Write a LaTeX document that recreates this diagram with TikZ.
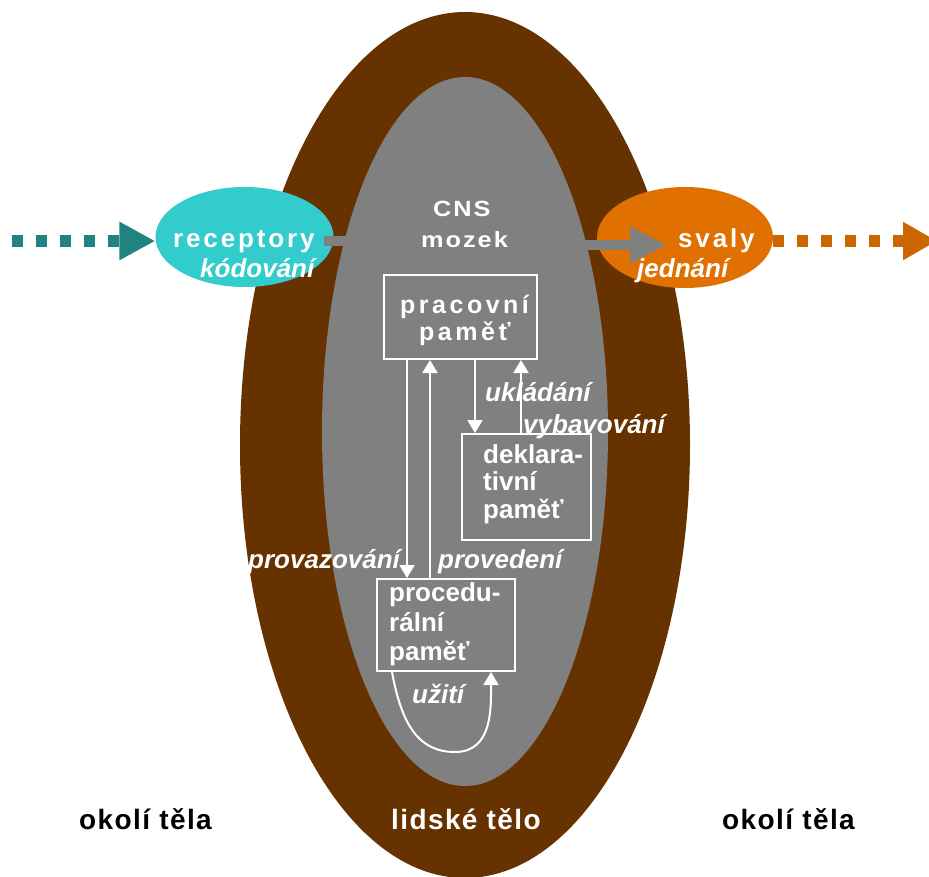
\documentclass[tikz,border=0pt]{standalone}
\usepackage{fontspec}
\setmainfont{Liberation Sans}
\newfontfamily\organfont[LetterSpace=11]{Liberation Sans}
\newfontfamily\spreadfont[LetterSpace=14]{Liberation Sans}
\newfontfamily\widefont[LetterSpace=9,FakeStretch=1.15]{Liberation Sans}
\newfontfamily\lightspread[LetterSpace=5]{Liberation Sans}
\usetikzlibrary{shapes.geometric,arrows.meta}
\definecolor{bodybrown}{HTML}{663300}
\definecolor{cnsgray}{HTML}{808080}
\definecolor{recepcyan}{HTML}{33CCCC}
\definecolor{muscleorange}{HTML}{E07000}
\definecolor{inteal}{HTML}{21837F}
\definecolor{outorange}{HTML}{CC6600}

\begin{document}
\begin{tikzpicture}[x=1pt,y=-1pt,
  blob/.style={ellipse, inner sep=0pt, draw=none},
  membox/.style={draw=white, line width=2pt, inner sep=0pt},
  flow/.style={draw=white, line width=2pt, -{Triangle[width=15pt,length=13pt]}},
  txt/.style={inner sep=0pt, anchor=base west, text=white},
  organ/.style={txt, font=\organfont\bfseries\fontsize{26}{30}\selectfont},
  working/.style={txt, font=\spreadfont\bfseries\fontsize{25}{30}\selectfont},
  brain/.style={txt, font=\widefont\bfseries\fontsize{22}{26}\selectfont},
  memtxt/.style={txt, font=\bfseries\fontsize{26}{30}\selectfont},
  act/.style={txt, font=\bfseries\itshape\fontsize{26}{30}\selectfont},
  place/.style={inner sep=0pt, anchor=base west, font=\lightspread\bfseries\fontsize{28}{30}\selectfont},
  signal/.style={line width=12pt, dash pattern=on 11pt off 13pt},
  nerve/.style={draw=cnsgray, line width=10pt}
]
\clip (0,0) rectangle (929,877);

% body and central nervous system
\node[blob, fill=bodybrown, minimum width=450pt, minimum height=866pt] (body) at (465,445) {};
\node[blob, fill=cnsgray, minimum width=286pt, minimum height=709pt] (cns) at (465,431.5) {};

% receptors and muscles
\node[blob, fill=recepcyan, minimum width=178pt, minimum height=100pt] (recep) at (244.5,237) {};
\node[blob, fill=muscleorange, minimum width=176pt, minimum height=101pt] (svaly) at (685,237.5) {};

% nerve paths into and out of the CNS
\coordinate (recout) at (324,241);
\coordinate (cnsin) at (380,241);
\draw[nerve] (recout) -- (cnsin);
\coordinate (cnsout) at (560,245);
\coordinate (motor) at (667,245);
\draw[nerve, -{Triangle[length=37pt,width=34pt]}] (cnsout) -- (motor);

% signals from and to the surroundings
\coordinate (worldin) at (12,241);
\draw[signal, draw=inteal, -{Triangle[length=36pt,width=36pt]}] (worldin) -- (worldin -| recep.west);
\coordinate (worldout) at (937,241);
\draw[signal, draw=outorange, -{Triangle[length=34pt,width=36pt]}] (svaly.east |- worldout) -- (worldout);

% memory boxes
\node[membox, minimum width=153pt, minimum height=84pt] (work) at (460.5,317) {};
\node[membox, minimum width=129pt, minimum height=106pt] (decl) at (526.5,487) {};
\node[membox, minimum width=138pt, minimum height=92pt] (proc) at (446,625) {};

% memory flows
\draw[flow] ([xshift=24pt]work.south west) -- ([xshift=24pt]work.south west |- proc.north);
\draw[flow] ([xshift=54pt]proc.north west) -- ([xshift=54pt]proc.north west |- work.south);
\draw[flow] ([xshift=92pt]work.south west) -- ([xshift=92pt]work.south west |- decl.north);
\draw[flow] ([xshift=60pt]decl.north west) -- ([xshift=60pt]decl.north west |- work.south);
\coordinate (loopbottom) at (455,752);
\draw[flow] ([xshift=16pt]proc.south west) .. controls +(10,55) and +(-35,0) .. (loopbottom)
  .. controls +(38,0) and +(0,35) .. ([xshift=115pt]proc.south west);

% texts
\node[organ] (trecep) at (173,248) {receptory};
\node[act] (tkod) at (200,278) {kódování};
\node[organ] (tsvaly) at (678,248) {svaly};
\node[act] (tjed) at (637,278) {jednání};
\node[brain] (tcns) at (433,217) {CNS};
\node[brain] (tmozek) at (421,248) {mozek};
\node[working] (twork1) at (400,313) {pracovní};
\node[working] (twork2) at (419,341) {paměť};
\node[memtxt] (tdecl1) at (483,463) {deklara-};
\node[memtxt] (tdecl2) at (483,490) {tivní};
\node[memtxt] (tdecl3) at (483,518) {paměť};
\node[memtxt] (tproc1) at (389,601) {procedu-};
\node[memtxt] (tproc2) at (389,631) {rální};
\node[memtxt] (tproc3) at (389,660) {paměť};
\node[act] (tstore) at (485,401) {ukládání};
\node[act] (trecall) at (523,433) {vybavování};
\node[act] (tlink) at (248,568) {provazování};
\node[act] (texec) at (438,568) {provedení};
\node[act] (tuse) at (412,703) {užití};
\node[place] (tout1) at (79,829) {okolí těla};
\node[place, text=white] (tbody) at (391,829) {lidské tělo};
\node[place] (tout2) at (722,829) {okolí těla};
\end{tikzpicture}
\end{document}
